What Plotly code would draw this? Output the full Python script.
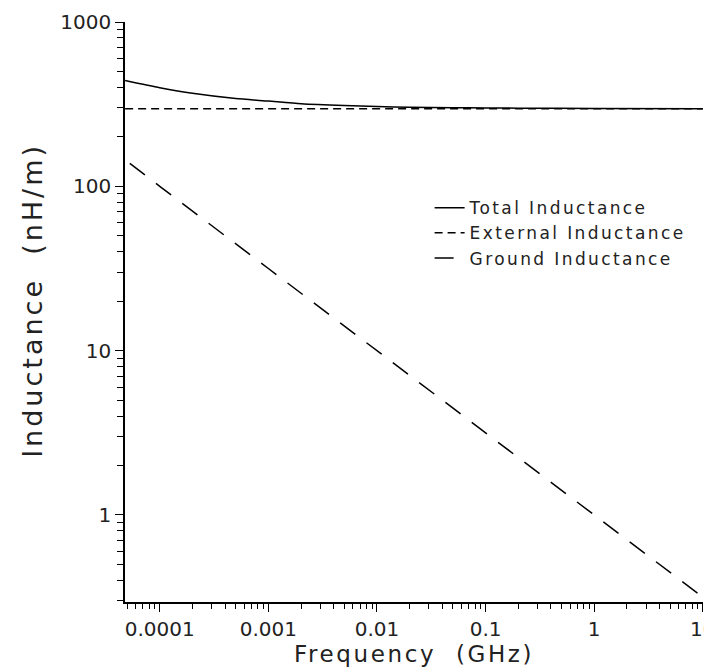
import plotly.graph_objects as go

# Data (frequency in GHz, inductance in nH/m)
freq_total = [4.8e-5, 1e-4, 2e-4, 5e-4, 1e-3, 2e-3, 5e-3, 0.01, 0.02, 0.05, 0.1, 0.2, 1, 10]
total_ind = [440, 398, 368, 342, 330, 318, 310, 306, 303, 301, 300, 299, 298, 297]

freq_ext = [4.8e-5, 10]
external_ind = [297, 297]

freq_gnd = [5.3e-5, 1e-4, 1e-3, 0.01, 0.1, 1, 10]
ground_ind = [138, 100, 31.6, 10, 3.16, 1.0, 0.316]

x_tickvals = [0.0001, 0.001, 0.01, 0.1, 1, 10]
x_ticktext = ["0.0001", "0.001", "0.01", "0.1", "1", "10"]
y_tickvals = [1, 10, 100, 1000]
y_ticktext = ["1", "10", "100", "1000"]

series_names = ["Total Inductance", "External Inductance", "Ground Inductance"]


def spaced(text, px):
    return '<span style="letter-spacing:%spx">%s</span>' % (px, text)


fig = go.Figure()
fig.add_trace(go.Scatter(x=freq_total, y=total_ind, mode="lines", name=spaced(series_names[0], 2.4),
                         line=dict(color="black", width=1.5, shape="spline", smoothing=0.6)))
fig.add_trace(go.Scatter(x=freq_ext, y=external_ind, mode="lines", name=spaced(series_names[1], 2.4),
                         line=dict(color="black", width=1.5, dash="8px,5px")))
fig.add_trace(go.Scatter(x=freq_gnd, y=ground_ind, mode="lines", name=spaced(series_names[2], 2.4),
                         line=dict(color="black", width=1.5, dash="19px,14px")))

font_family = "DejaVu Sans, sans-serif"

fig.update_layout(
    width=704, height=659,
    margin=dict(l=117, r=9, t=14, b=65),
    paper_bgcolor="white", plot_bgcolor="white",
    font=dict(family=font_family, color="#222", size=20),
    showlegend=True,
    legend=dict(x=0.527, y=0.71, xanchor="left", yanchor="top",
                bgcolor="rgba(0,0,0,0)", font=dict(size=17, color="#222"),
                tracegroupgap=0),
    xaxis=dict(type="log", range=[-4.32, 1.002], showgrid=False, zeroline=False,
               automargin=False, ticklabeloverflow="allow",
               showline=True, linecolor="black", linewidth=1.5,
               ticks="outside", ticklen=8, tickwidth=1.2, tickcolor="black",
               tickvals=x_tickvals, ticktext=x_ticktext, tickfont=dict(size=20),
               minor=dict(ticks="outside", ticklen=5, tickwidth=1, tickcolor="black",
                          dtick="D1", showgrid=False),
               title=dict(text=spaced("Frequency&nbsp; (GHz)", 2.6),
                          font=dict(size=23), standoff=0)),
    yaxis=dict(type="log", range=[-0.53, 3.0], showgrid=False, zeroline=False,
               automargin=False,
               showline=True, linecolor="black", linewidth=1.5,
               ticks="outside", ticklen=8, tickwidth=1.2, tickcolor="black",
               tickvals=y_tickvals, ticktext=y_ticktext, tickfont=dict(size=20),
               minor=dict(ticks="outside", ticklen=6, tickwidth=1, tickcolor="black",
                          dtick="D1", showgrid=False),
               title=dict(text=spaced("&nbsp;&nbsp;Inductance&nbsp; (nH/m)", 3),
                          font=dict(size=27), standoff=10)),
)

fig.write_html("out.html")
